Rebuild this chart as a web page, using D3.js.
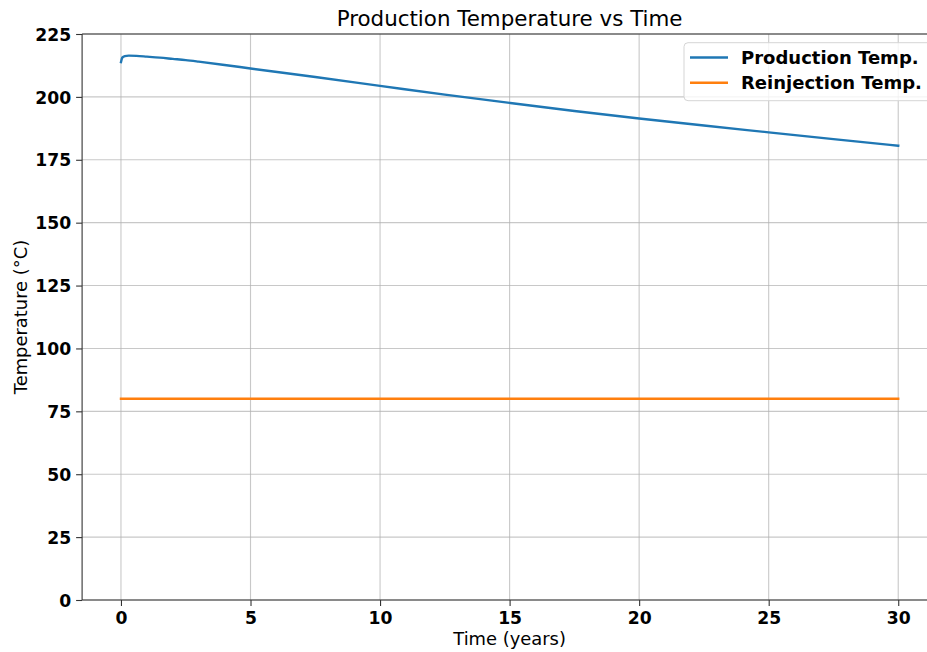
<!DOCTYPE html>
<html>
<head>
<meta charset="utf-8">
<script src="https://cdn.jsdelivr.net/npm/d3@7"></script>
<style>
  html, body { margin: 0; padding: 0; background: #fff; overflow: hidden; }
  svg { display: block; font-family: "DejaVu Sans", sans-serif; }
</style>
</head>
<body>
<svg id="chart" width="927" height="652"></svg>
<script>
// ---- data ----
const years = [0, 0.05, 0.15, 0.3, 0.6, 1, 1.5, 2, 2.5, 3, 4, 5, 7.5, 10, 12.5, 15, 17.5, 20, 22.5, 25, 27.5, 30];
const productionTemp = [213.8, 215.6, 216.2, 216.4, 216.3, 216.0, 215.6, 215.1, 214.6, 214.0, 212.7, 211.3, 207.9, 204.4, 200.9, 197.6, 194.4, 191.4, 188.6, 185.9, 183.2, 180.6];
const reinjectionTemp = [80, 80];
const reinjectionYears = [0, 30];
const xTicks = [0, 5, 10, 15, 20, 25, 30];
const yTicks = [0, 25, 50, 75, 100, 125, 150, 175, 200, 225];
const seriesNames = ["Production Temp.", "Reinjection Temp."];
const colors = ["#1f77b4", "#ff7f0e"];

// ---- layout ----
const svg = d3.select("#chart");
const x = d3.scaleLinear().domain([-1.5, 31.5]).range([82.1, 937.1]);
const y = d3.scaleLinear().domain([0, 225]).range([600, 34]);
const x0 = x.range()[0], x1 = x.range()[1], y0 = y.range()[0], y1 = y.range()[1];

// grid
const grid = svg.append("g");
grid.selectAll("line.gx").data(xTicks).join("line")
  .attr("x1", d => x(d)).attr("x2", d => x(d)).attr("y1", y0).attr("y2", y1)
  .attr("stroke", "#b0b0b0").attr("stroke-opacity", 0.7).attr("stroke-width", 1.1);
grid.selectAll("line.gy").data(yTicks).join("line")
  .attr("x1", x0).attr("x2", x1).attr("y1", d => y(d)).attr("y2", d => y(d))
  .attr("stroke", "#b0b0b0").attr("stroke-opacity", 0.7).attr("stroke-width", 1.1);

// lines
const line = d3.line().x(d => x(d[0])).y(d => y(d[1])).curve(d3.curveMonotoneX);
svg.append("path")
  .datum(years.map((t, i) => [t, productionTemp[i]]))
  .attr("d", line).attr("fill", "none").attr("stroke", colors[0])
  .attr("stroke-width", 2.4).attr("stroke-linejoin", "round").attr("stroke-linecap", "square");
svg.append("path")
  .datum(reinjectionYears.map((t, i) => [t, reinjectionTemp[i]]))
  .attr("d", line).attr("fill", "none").attr("stroke", colors[1])
  .attr("stroke-width", 2.4).attr("stroke-linecap", "square");

// axes
const xAxis = d3.axisBottom(x).tickValues(xTicks).tickSize(6).tickPadding(5).tickFormat(d3.format("d"));
const yAxis = d3.axisLeft(y).tickValues(yTicks).tickSize(6).tickPadding(5).tickFormat(d3.format("d"));
const gx = svg.append("g").attr("transform", `translate(0,${y0})`).call(xAxis);
const gy = svg.append("g").attr("transform", `translate(${x0},0)`).call(yAxis);
[gx, gy].forEach(g => {
  g.select(".domain").remove();
  g.selectAll(".tick line").attr("stroke", "#333").attr("stroke-width", 1.1);
  g.selectAll(".tick text").attr("fill", "#000").attr("font-size", "17.2px")
    .attr("font-weight", "bold").attr("font-family", "DejaVu Sans, sans-serif");
});
gx.selectAll(".tick text").attr("dy", "0.75em");
gy.selectAll(".tick text").attr("dy", "0.36em");

// spines
svg.append("line").attr("x1", x0).attr("x2", x0).attr("y1", y0).attr("y2", y1)
  .attr("stroke", "#333").attr("stroke-width", 1.1);
svg.append("line").attr("x1", x0).attr("x2", x1).attr("y1", y0).attr("y2", y0)
  .attr("stroke", "#333").attr("stroke-width", 1.1);
svg.append("line").attr("x1", x0).attr("x2", x1).attr("y1", y1).attr("y2", y1)
  .attr("stroke", "#333").attr("stroke-width", 1.1);

// title & labels
svg.append("text").attr("x", (x0 + x1) / 2).attr("y", 26).attr("text-anchor", "middle")
  .attr("font-size", "21.4px").attr("fill", "#000").text("Production Temperature vs Time");
svg.append("text").attr("x", (x0 + x1) / 2).attr("y", 645).attr("text-anchor", "middle")
  .attr("font-size", "17.9px").attr("fill", "#000").text("Time (years)");
svg.append("text").attr("transform", `translate(27,${(y0 + y1) / 2}) rotate(-90)`)
  .attr("text-anchor", "middle").attr("font-size", "17.9px").attr("fill", "#000")
  .text("Temperature (°C)");

// legend
const lg = svg.append("g");
lg.append("rect").attr("x", 684).attr("y", 42.7).attr("width", 250).attr("height", 58)
  .attr("rx", 4).attr("fill", "#fff").attr("fill-opacity", 0.8)
  .attr("stroke", "#d5d5d5").attr("stroke-width", 1);
seriesNames.forEach((name, i) => {
  const cy = 57.5 + i * 25.3;
  lg.append("line").attr("x1", 690).attr("x2", 728).attr("y1", cy).attr("y2", cy)
    .attr("stroke", colors[i]).attr("stroke-width", 2.4);
  lg.append("text").attr("x", 741).attr("y", cy).attr("dy", "0.36em")
    .attr("font-size", "18px").attr("font-weight", "bold").attr("fill", "#000").text(name);
});
</script>
</body>
</html>
